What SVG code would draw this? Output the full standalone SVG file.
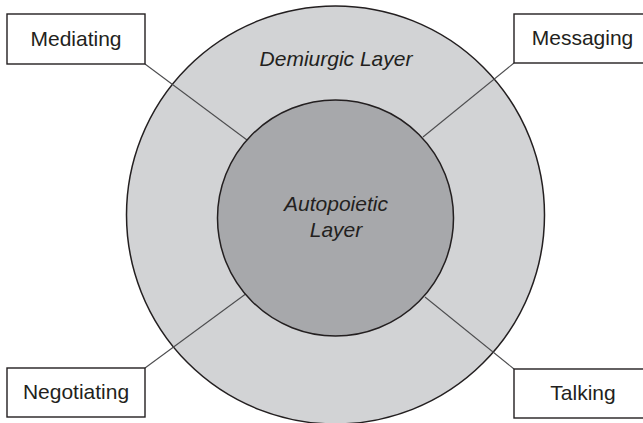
<svg xmlns="http://www.w3.org/2000/svg" width="643" height="423" viewBox="0 0 643 423">
<style>
.box{fill:#fff;stroke:#231f20;stroke-width:1.4}
.lbl{font-family:"Liberation Sans",Arial,sans-serif;font-size:21px;fill:#231f20;text-anchor:middle}
.it{font-style:italic}
.conn{stroke:#4d4d4f;stroke-width:1.1;fill:none}
.ring{stroke:#231f20;stroke-width:1.5}
</style>
<rect width="643" height="423" fill="#fff"/>
<g id="demiurgic">
<circle class="ring" cx="335.5" cy="215" r="209" fill="#d2d3d5"/>
<text class="lbl it" x="336" y="66">Demiurgic Layer</text>
</g>
<g id="connectors">
<line class="conn" x1="145" y1="64" x2="247" y2="140"/>
<line class="conn" x1="514" y1="63" x2="423" y2="137"/>
<line class="conn" x1="145" y1="368" x2="247" y2="293"/>
<line class="conn" x1="514" y1="369" x2="425" y2="297"/>
</g>
<g id="autopoietic">
<circle class="ring" cx="335.5" cy="218" r="118" fill="#a7a8ab"/>
<text class="lbl it" x="336" y="211">Autopoietic</text>
<text class="lbl it" x="336" y="237">Layer</text>
</g>
<g id="mediating">
<rect class="box" x="7" y="14" width="138" height="50"/>
<text class="lbl" x="76" y="46">Mediating</text>
</g>
<g id="messaging">
<rect class="box" x="514" y="14" width="135" height="49"/>
<text class="lbl" x="582.5" y="45">Messaging</text>
</g>
<g id="negotiating">
<rect class="box" x="7" y="368" width="138" height="49"/>
<text class="lbl" x="76" y="399">Negotiating</text>
</g>
<g id="talking">
<rect class="box" x="514" y="369" width="135" height="49"/>
<text class="lbl" x="583" y="400">Talking</text>
</g>
</svg>
